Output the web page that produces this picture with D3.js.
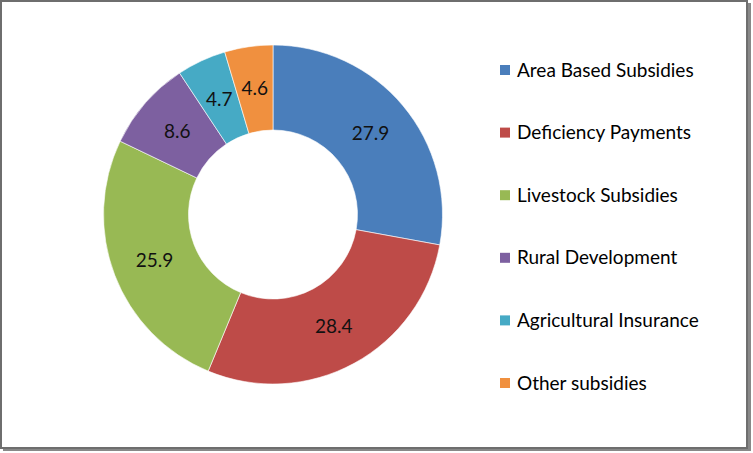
<!DOCTYPE html>
<html><head><meta charset="utf-8">
<script src="https://cdn.jsdelivr.net/npm/d3@7"></script>
<style>body{margin:0;background:#fff}svg{display:block}</style>
</head><body>
<script>
const categories = ["Area Based Subsidies","Deficiency Payments","Livestock Subsidies","Rural Development","Agricultural Insurance","Other subsidies"];
const values = [27.9, 28.4, 25.9, 8.6, 4.7, 4.6];
const colors = ["#4A7EBB","#BE4B48","#98B954","#7D60A0","#46AAC5","#F0903F"];

const W = 753, H = 453;
const svg = d3.select("body").append("svg").attr("width", W).attr("height", H);
const font = "Lato, 'Open Sans', sans-serif";

// frame with shadow
svg.append("rect").attr("x",3).attr("y",3).attr("width",748).attr("height",448).attr("fill","#888");
svg.append("rect").attr("x",1).attr("y",1).attr("width",746).attr("height",447).attr("fill","#fff").attr("stroke","#6e6e6e").attr("stroke-width",2);

const cx = 273, cy = 214.5, R = 169.5, r = 84.5;
const pie = d3.pie().sort(null).value(d => d)(values);
const arc = d3.arc().innerRadius(r).outerRadius(R);
const labelArc = d3.arc().innerRadius((r+R)/2).outerRadius((r+R)/2);
const g = svg.append("g").attr("transform", `translate(${cx},${cy})`);
g.selectAll("path").data(pie).join("path")
  .attr("d", arc).attr("fill", (d,i) => colors[i])
  .attr("stroke","#fff").attr("stroke-width",0.6);
g.selectAll("text").data(pie).join("text")
  .attr("transform", d => `translate(${labelArc.centroid(d)})`)
  .attr("text-anchor","middle").attr("dy","0.35em")
  .attr("font-family", font).attr("font-size", 19).attr("fill","#111")
  .text(d => d.data.toFixed(1));

const leg = svg.append("g");
const y0 = 70, step = 62.6;
categories.forEach((c,i) => {
  const y = y0 + i*step;
  leg.append("rect").attr("x",500).attr("y",y-5).attr("width",10).attr("height",10).attr("fill",colors[i]);
  leg.append("text").attr("x",517).attr("y",y).attr("dy","0.35em")
    .attr("font-family", font).attr("font-size",19).attr("fill","#000").text(c);
});
</script>
</body></html>
